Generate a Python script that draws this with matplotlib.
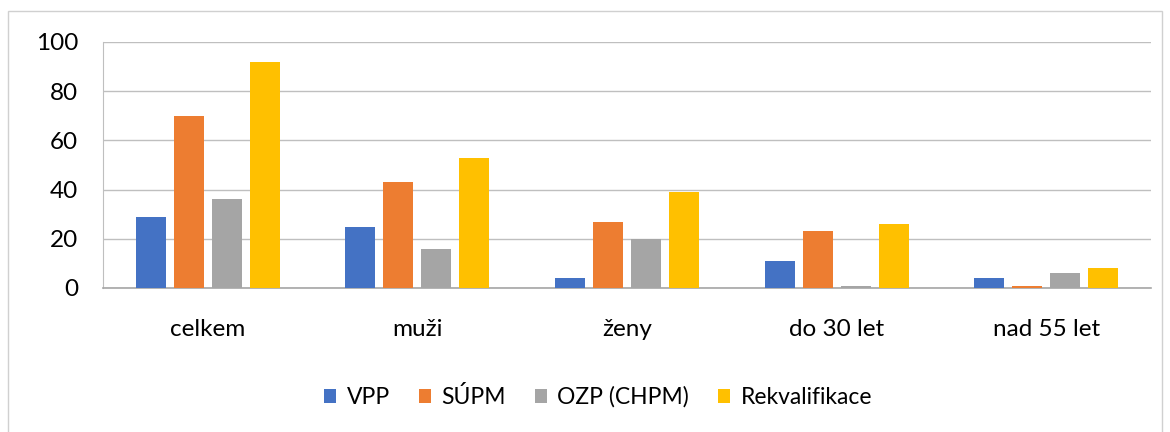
import numpy as np
import matplotlib
matplotlib.use("Agg")
import matplotlib.pyplot as plt
from matplotlib.patches import Rectangle

plt.rcParams['font.family'] = ['Lato', 'DejaVu Sans']

# =====================================================
# DATOS
# =====================================================
categorias = ['celkem', 'muži', 'ženy', 'do 30 let', 'nad 55 let']
vpp = [29, 25, 4, 11, 4]
supm = [70, 43, 27, 23, 1]
ozp = [36, 16, 20, 1, 6]
rekval = [92, 53, 39, 26, 8]

series = ['VPP', 'SÚPM', 'OZP (CHPM)', 'Rekvalifikace']
colores = ['#4472C4', '#ED7D31', '#A5A5A5', '#FFC000']

# =====================================================
# GRÁFICO
# =====================================================
fig = plt.figure(figsize=(11.7, 4.32), dpi=100)
ax = fig.add_axes([103/1170, 1 - 288/432, (1151 - 103)/1170, (288 - 42)/432])

x = np.arange(len(categorias))
ancho = 30/209.5
paso = 38/209.5
for i, (nombre, valores) in enumerate(zip(series, [vpp, supm, ozp, rekval])):
    ax.bar(x + (i - 1.5)*paso, valores, width=ancho, color=colores[i],
           label=nombre, zorder=3)

ax.set_xlim(-0.5, len(categorias) - 0.5)
ax.set_ylim(0, 100)
ax.set_yticks(range(0, 101, 20))
ax.set_xticks(x)
ax.set_xticklabels(categorias)
ax.tick_params(axis='both', length=0, labelsize=17.5, colors='black')
ax.tick_params(axis='x', pad=22)
ax.tick_params(axis='y', pad=18)
ax.grid(axis='y', color='#BFBFBF', linewidth=1, zorder=0)

for s in ['top', 'right']:
    ax.spines[s].set_visible(False)
ax.spines['left'].set_color('#BFBFBF')
ax.spines['bottom'].set_color('#A6A6A6')
ax.spines['bottom'].set_linewidth(1.2)

fig.legend(loc='center', bbox_to_anchor=(598/1170, 1 - 397/432), ncol=4,
           frameon=False, fontsize=16.5, handlelength=0.55, handleheight=0.55,
           handletextpad=0.45, columnspacing=1.25)

# Marco exterior
fig.patches.append(Rectangle((8/1170, -0.05), (1162 - 8)/1170, 1.05 - 11/432,
                             transform=fig.transFigure, fill=False,
                             edgecolor='#D0D0D0', linewidth=1))

fig.savefig('out.png', dpi=100, facecolor='white')
